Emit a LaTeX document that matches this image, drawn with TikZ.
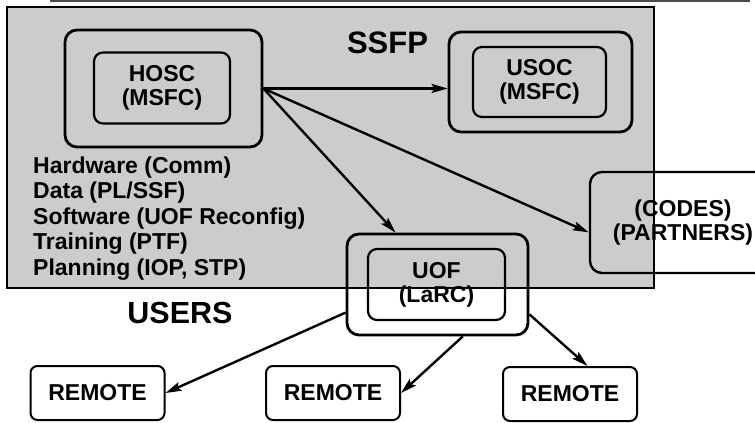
\documentclass[tikz,border=0pt]{standalone}
\usepackage{fontspec}
\setmainfont{Liberation Sans}
\usepackage{tikz}
\usetikzlibrary{arrows.meta}

\newcommand{\boxfont}{\bfseries\fontsize{23}{24}\selectfont}
\tikzset{
  outerbox/.style={draw, line width=2.8pt, rounded corners=12pt, inner sep=0pt},
  innerbox/.style={draw, line width=2.2pt, rounded corners=9pt, inner sep=0pt, align=center, font=\boxfont},
  remotebox/.style={draw, line width=2pt, rounded corners=7pt, minimum width=134pt, minimum height=54pt, inner sep=0pt, font=\boxfont},
  link/.style={line width=2.4pt, -{Stealth[length=16pt,width=9pt,inset=3pt]}},
}

\begin{document}
\begin{tikzpicture}[x=1pt, y=-1pt]
    \useasboundingbox (0,0) rectangle (755,423);
    \clip (0,0) rectangle (755,423);

    % SSFP area
    \draw[line width=1.5pt, black!70] (50,1) -- (750,1);
    \draw[fill=black!20, line width=2.2pt] (7,7) rectangle (654,288);
    \node[font=\bfseries\fontsize{31}{32}\selectfont] (ssfp) at (387.5,43) {SSFP};

    % HOSC
    \node[outerbox, minimum width=197pt, minimum height=117pt] (hoscbox) at (163.5,88.5) {};
    \node[innerbox, minimum width=136pt, minimum height=71pt] (hosc) at (162,88) {HOSC\\(MSFC)};

    % USOC
    \node[outerbox, minimum width=183pt, minimum height=100pt] (usocbox) at (540.5,82) {};
    \node[innerbox, minimum width=133pt, minimum height=70pt] (usoc) at (539.5,82) {USOC\\(MSFC)};

    % UOF
    \node[outerbox, minimum width=181pt, minimum height=101pt] (uofbox) at (437.5,284.5) {};
    \node[innerbox, minimum width=137pt, minimum height=71pt] (uof) at (436.5,284.5) {UOF\\(LaRC)};

    % partners, running off the right edge
    \node[outerbox, line width=2.4pt, minimum width=186pt, minimum height=101pt, align=center, font=\boxfont] (partners) at (683,222.5) {(CODES)\\(PARTNERS)};

    % services list (anchored on its last line)
    \node[anchor=base west, align=left, inner sep=0pt, font=\bfseries\fontsize{23}{25.5}\selectfont] (services) at (33,275)
        {Hardware (Comm)\\Data (PL/SSF)\\Software (UOF Reconfig)\\Training (PTF)\\Planning (IOP, STP)};

    % users
    \node[font=\bfseries\fontsize{30.5}{32}\selectfont] (users) at (180,313) {USERS};
    \node[remotebox] (remoteA) at (97.5,393) {REMOTE};
    \node[remotebox] (remoteB) at (333,393) {REMOTE};
    \node[remotebox] (remoteC) at (570,394) {REMOTE};

    % links
    \draw[link] (hoscbox.east) -- (hoscbox.east -| usocbox.west);
    \draw[link] (hoscbox.east) -- (uofbox.129);
    \draw[link] (hoscbox.east) -- (partners.186);
    \draw[link] (uofbox.197) -- (remoteA.east);
    \draw[link] (uofbox.296) -- (remoteB.east);
    \draw[link] (uofbox.342) -- (remoteC.58);
\end{tikzpicture}
\end{document}
